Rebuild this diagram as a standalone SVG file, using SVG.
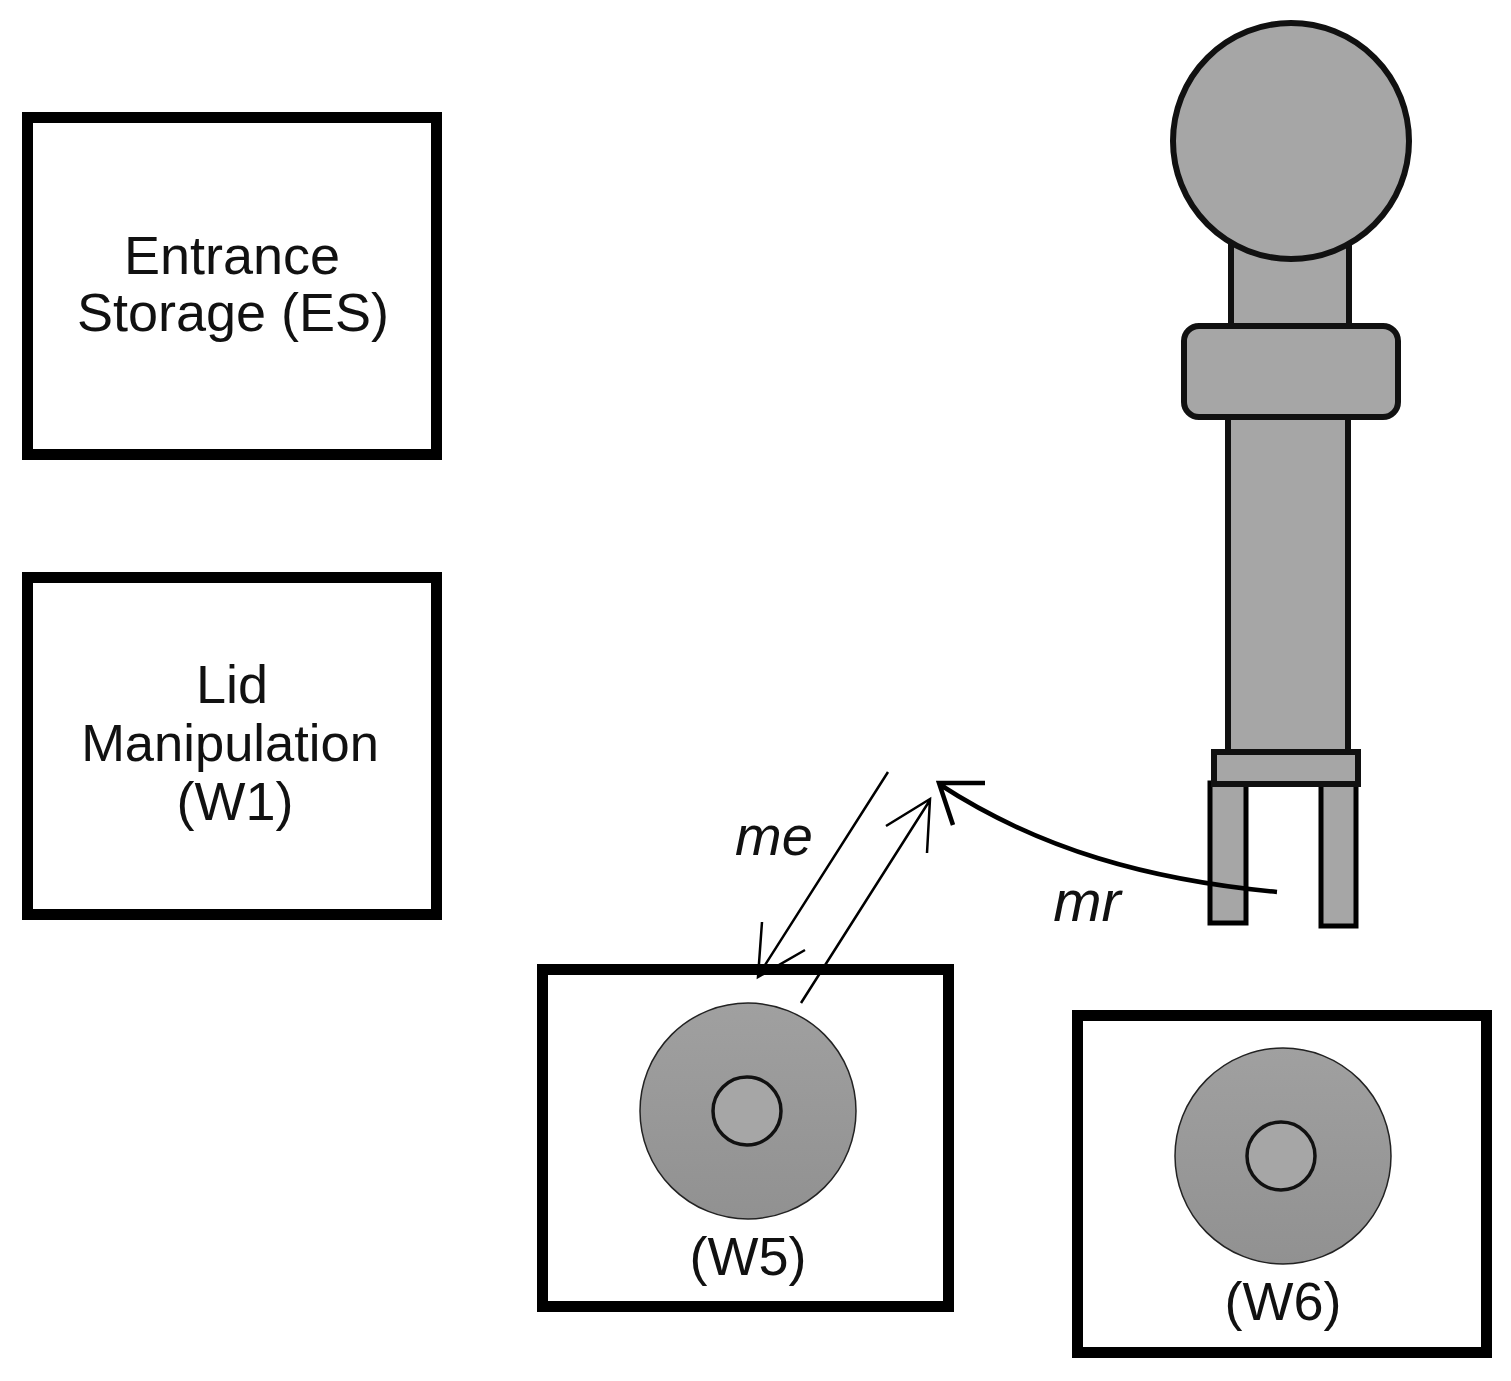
<svg xmlns="http://www.w3.org/2000/svg" width="1511" height="1381" viewBox="0 0 1511 1381">
<style>
.box{fill:#fff;stroke:#000;stroke-width:11}
.t{font-family:"Liberation Sans",Arial,sans-serif;font-size:54px;fill:#111;text-anchor:middle}
.n{font-size:52.500px}
.i{font-style:italic;font-size:56px}
.j{font-style:italic;font-size:58px}
.r{fill:#a6a6a6;stroke:#111;stroke-width:6}
.d{fill:url(#g);stroke:#222;stroke-width:1.500}
.h{fill:#a6a6a6;stroke:#000;stroke-width:5}
.l{fill:none;stroke:#000;stroke-width:2.500}
.c{fill:none;stroke:#000;stroke-width:4.500}
</style>
<defs><linearGradient id="g" x1="0" y1="0" x2="0" y2="1"><stop offset="0" stop-color="#a0a0a0"/><stop offset="1" stop-color="#919191"/></linearGradient></defs>
<rect width="1511" height="1381" fill="#fff"/>
<g id="es"><rect class="box" x="27.500" y="117.500" width="409" height="337"/>
<text class="t" x="232" y="274">Entrance</text><text class="t" x="233" y="331">Storage (ES)</text></g>
<g id="w1"><rect class="box" x="27.500" y="577.500" width="409" height="337"/>
<text class="t" x="232" y="703">Lid</text><text class="t n" x="230" y="761">Manipulation</text><text class="t" x="235" y="820">(W1)</text></g>
<g id="w5"><rect class="box" x="542.500" y="969.500" width="406" height="337"/>
<circle class="d" cx="748" cy="1111" r="108"/><circle cx="747" cy="1111" r="34" fill="#a6a6a6" stroke="#111" stroke-width="3.500"/>
<text class="t" x="748" y="1275">(W5)</text></g>
<g id="w6"><rect class="box" x="1077.500" y="1015.500" width="409" height="337"/>
<circle class="d" cx="1283" cy="1156" r="108"/><circle cx="1281" cy="1156" r="34" fill="#a6a6a6" stroke="#111" stroke-width="3.500"/>
<text class="t" x="1283" y="1320">(W6)</text></g>
<g id="robot">
<rect class="r" x="1231" y="235" width="118" height="100"/>
<rect class="r" x="1228" y="410" width="120" height="345"/>
<circle class="r" cx="1291" cy="141" r="118"/>
<rect class="r" x="1184" y="326" width="214" height="91" rx="15"/>
<rect class="h" x="1210" y="783" width="36" height="140"/>
<rect class="h" x="1321" y="783" width="35" height="143"/>
<rect class="r" x="1214" y="752" width="144" height="32"/>
</g>
<g id="connectors">
<path class="l" d="M888 772L758 976M762 922L758 977L805 950"/>
<path class="l" d="M801 1003L930 800M886 826L930 799L927 853"/>
<path class="c" d="M1277 892C1150 880 1040 850 939 784M985 783L939 783L953 825"/>
</g>
<g id="labels"><text class="t i" x="774" y="855">me</text><text class="t j" x="1087" y="921">mr</text></g>
</svg>
